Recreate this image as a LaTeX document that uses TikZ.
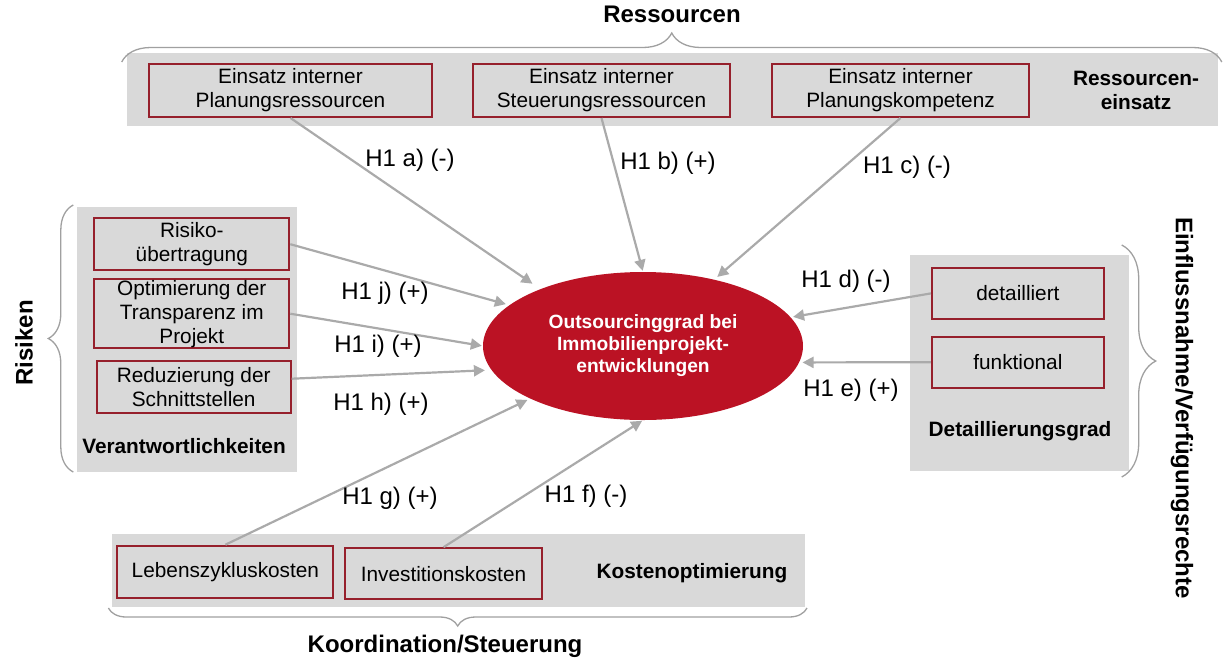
\documentclass[tikz,border=0pt]{standalone}
\usepackage{fontspec}
\setmainfont{Liberation Sans}
\usepackage{tikz}
\usetikzlibrary{arrows.meta,decorations.pathreplacing,shapes.geometric}
\definecolor{panelgray}{RGB}{217,217,217}
\definecolor{boxred}{RGB}{150,32,44}
\definecolor{ovalred}{RGB}{187,18,36}
\definecolor{arrowgray}{RGB}{170,170,170}
\definecolor{bracegray}{RGB}{160,160,160}
\newcommand{\boxsize}{\fontsize{20.8}{24}\selectfont}
\newcommand{\hypsize}{\fontsize{24}{28}\selectfont}
\newcommand{\headsize}{\fontsize{24}{28}\selectfont\bfseries}
\newcommand{\ovalsize}{\fontsize{19.2}{22}\selectfont\bfseries}

\begin{document}
\begin{tikzpicture}[x=1pt,y=-1pt,
factor/.style={draw=boxred,line width=2pt,inner sep=0pt,align=center,font=\boxsize},
paneltitle/.style={font=\boxsize\bfseries,align=center},
hyp/.style={font=\hypsize},
grouptitle/.style={font=\headsize},
influence/.style={draw=arrowgray,line width=2.2pt,-{Triangle[length=11pt,width=11pt]}},
groupbrace/.style={draw=bracegray,line width=1.3pt,decorate,decoration={brace,amplitude=#1}}]
\useasboundingbox (0,0) rectangle (1223,657);

%grey panels
\fill[panelgray] (127,53) rectangle (1218,126);
\fill[panelgray] (77,207) rectangle (297,472);
\fill[panelgray] (910,255) rectangle (1129,471);
\fill[panelgray] (112,534) rectangle (805,607);

%Ressourceneinsatz
\node[factor,minimum width=283pt,minimum height=53pt] (b1) at (290.5,90.5) {Einsatz interner\\Planungsressourcen};
\node[factor,minimum width=257pt,minimum height=53pt] (b2) at (601.5,90.5) {Einsatz interner\\Steuerungsressourcen};
\node[factor,minimum width=257pt,minimum height=53pt] (b3) at (900.5,90.5) {Einsatz interner\\Planungskompetenz};
\node[paneltitle] (tres) at (1136,90) {Ressourcen-\\einsatz};

%Verantwortlichkeiten
\node[factor,minimum width=195pt,minimum height=52pt] (ris) at (191.8,244.2) {Risiko-\\übertragung};
\node[factor,minimum width=195pt,minimum height=69pt] (opt) at (191.8,313.7) {Optimierung der\\Transparenz im\\Projekt};
\node[factor,minimum width=194pt,minimum height=52pt] (red) at (193.7,386.7) {Reduzierung der\\Schnittstellen};
\node[paneltitle] (tver) at (184,446) {Verantwortlichkeiten};

%Detaillierungsgrad
\node[factor,minimum width=172pt,minimum height=51pt] (det) at (1017.9,293.4) {detailliert};
\node[factor,minimum width=172pt,minimum height=51pt] (fun) at (1017.9,362.2) {funktional};
\node[paneltitle] (tdet) at (1020,431) {Detaillierungsgrad};

%Kostenoptimierung
\node[factor,minimum width=216pt,minimum height=52pt] (leb) at (225.4,571.7) {Lebenszykluskosten};
\node[factor,minimum width=197pt,minimum height=51pt] (inv) at (443.5,573.7) {Investitionskosten};
\node[paneltitle] (tkos) at (692,573) {Kostenoptimierung};

%centre
\node[ellipse,fill=ovalred,text=white,inner sep=0pt,minimum width=320pt,minimum height=148pt,align=center,font=\ovalsize] (ell) at (643,346)
	{Outsourcinggrad bei\\Immobilienprojekt-\\entwicklungen};

%hypotheses
\draw[influence,shorten >=9.5pt] (b1.south) -- (ell.151);
\draw[influence,shorten >=1pt] (b2.south) -- (ell.north);
\draw[influence,shorten >=4pt] (b3.south) -- (ell.43);
\draw[influence,shorten >=2.4pt] (det.west) -- (ell.11);
\draw[influence,shorten >=3.3pt] (fun.west) -- (ell.354.5);
\draw[influence,shorten >=1pt] (inv.north) -- (ell.south);
\draw[influence,shorten >=3pt] (leb.north) -- (ell.205);
\draw[influence,shorten >=6.5pt] ([yshift=8pt]red.east) -- (ell.189);
\draw[influence,shorten >=1pt] (opt.east) -- (ell.west);
\draw[influence,shorten >=3.6pt] (ris.east) -- (ell.163);

\node[hyp] (la) at (410,160) {H1 a) (-)};
\node[hyp] (lb) at (668,163) {H1 b) (+)};
\node[hyp] (lc) at (907,167) {H1 c) (-)};
\node[hyp] (ld) at (846,281) {H1 d) (-)};
\node[hyp] (le) at (851,390) {H1 e) (+)};
\node[hyp] (lf) at (586,496) {H1 f) (-)};
\node[hyp] (lg) at (390,498) {H1 g) (+)};
\node[hyp] (lh) at (381,404) {H1 h) (+)};
\node[hyp] (li) at (378,346) {H1 i) (+)};
\node[hyp] (lj) at (385,293) {H1 j) (+)};

%braces and group names
\draw[groupbrace=29pt] (121.7,62) -- (1221.8,62);
\draw[groupbrace=25pt] (73.3,472) -- (73.3,205);
\draw[groupbrace=34pt] (1121.7,245) -- (1121.7,477);
\draw[groupbrace=18pt] (807,608) -- (108.4,608);
\node[grouptitle] (gres) at (672,14) {Ressourcen};
\node[grouptitle,rotate=90] (gris) at (24,343) {Risiken};
\node[grouptitle,rotate=-90] (gein) at (1182,408) {Einflussnahme/Verfügungsrechte};
\node[grouptitle] (gkoo) at (445,646) {Koordination/Steuerung};
\end{tikzpicture}
\end{document}
